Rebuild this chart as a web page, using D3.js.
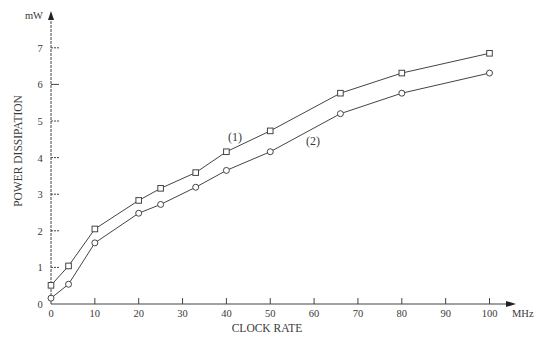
<!DOCTYPE html>
<html>
<head>
<meta charset="utf-8">
<script src="https://cdn.jsdelivr.net/npm/d3@7"></script>
<style>
  body { margin: 0; background: #fff; }
  svg text { font-family: "Liberation Serif", "DejaVu Serif", serif; fill: #3a3a3a; }
</style>
</head>
<body>
<div id="chart"></div>
<script>
// clock rate (MHz) for each measured point
const clockRate = [0, 4, 10, 20, 25, 33, 40, 50, 66, 80, 100];
// power dissipation (mW), curve (1) squares, curve (2) circles
const power1 = [0.51, 1.04, 2.05, 2.83, 3.16, 3.59, 4.16, 4.73, 5.76, 6.31, 6.85];
const power2 = [0.16, 0.54, 1.67, 2.48, 2.72, 3.19, 3.65, 4.16, 5.2, 5.76, 6.31];
const xTicks = [0, 10, 20, 30, 40, 50, 60, 70, 80, 90, 100];
const yTicks = [0, 1, 2, 3, 4, 5, 6, 7];

const width = 535, height = 337;

const svg = d3.select('#chart')
  .append('svg')
  .attr('width', width)
  .attr('height', height);

const x = d3.scaleLinear().domain([0, 100]).range([51, 489.5]);
const y = d3.scaleLinear().domain([0, 7]).range([304, 47.8]);

const ink = '#444';

// x axis line with arrow
svg.append('line')
  .attr('x1', x(0)).attr('x2', 512)
  .attr('y1', y(0)).attr('y2', y(0))
  .attr('stroke', ink).attr('stroke-width', 1);
svg.append('path')
  .attr('d', `M516,${y(0)} L506,${y(0) - 3} L506,${y(0) + 3} Z`)
  .attr('fill', '#222');

// y axis line (dashed) with arrow
svg.append('line')
  .attr('x1', x(0)).attr('x2', x(0))
  .attr('y1', y(0)).attr('y2', 18)
  .attr('stroke', ink).attr('stroke-width', 1)
  .attr('stroke-dasharray', '3,1');
svg.append('path')
  .attr('d', `M${x(0)},11 L${x(0) - 3},20 L${x(0) + 3},20 Z`)
  .attr('fill', '#222');

// x ticks
const xt = svg.append('g');
xt.selectAll('line')
  .data(xTicks.filter(d => d > 0))
  .join('line')
  .attr('x1', d => x(d)).attr('x2', d => x(d))
  .attr('y1', y(0)).attr('y2', y(0) - 6)
  .attr('stroke', ink).attr('stroke-width', 1);
xt.selectAll('text')
  .data(xTicks)
  .join('text')
  .attr('x', d => x(d))
  .attr('y', y(0) + 13)
  .attr('text-anchor', 'middle')
  .attr('font-size', 10.5)
  .text(d => d);

// y ticks
const yt = svg.append('g');
yt.selectAll('line')
  .data(yTicks.filter(d => d > 0))
  .join('line')
  .attr('x1', x(0)).attr('x2', x(0) + 8)
  .attr('y1', d => y(d)).attr('y2', d => y(d))
  .attr('stroke', ink).attr('stroke-width', 1)
  .attr('stroke-dasharray', d => d === 6 ? null : '2,1');
yt.selectAll('text')
  .data(yTicks)
  .join('text')
  .attr('x', 40)
  .attr('y', d => y(d) + 4)
  .attr('text-anchor', 'middle')
  .attr('font-size', 10.5)
  .text(d => d);

// axis labels and units
svg.append('text')
  .attr('x', 512).attr('y', 317)
  .attr('font-size', 10.5)
  .text('MHz');
svg.append('text')
  .attr('x', 43).attr('y', 19)
  .attr('text-anchor', 'end')
  .attr('font-size', 10.5)
  .text('mW');
svg.append('text')
  .attr('x', 267).attr('y', 332)
  .attr('text-anchor', 'middle')
  .attr('font-size', 11.5)
  .text('CLOCK RATE');
svg.append('text')
  .attr('transform', 'translate(22,151) rotate(-90)')
  .attr('text-anchor', 'middle')
  .attr('font-size', 11.5)
  .text('POWER DISSIPATION');

// curves
const line = d3.line()
  .x(d => x(d[0]))
  .y(d => y(d[1]));

const pts1 = clockRate.map((c, i) => [c, power1[i]]);
const pts2 = clockRate.map((c, i) => [c, power2[i]]);

svg.append('path')
  .datum(pts1)
  .attr('d', line)
  .attr('fill', 'none')
  .attr('stroke', ink).attr('stroke-width', 1);
svg.append('path')
  .datum(pts2)
  .attr('d', line)
  .attr('fill', 'none')
  .attr('stroke', ink).attr('stroke-width', 1);

svg.append('g').selectAll('rect')
  .data(pts1)
  .join('rect')
  .attr('x', d => x(d[0]) - 2.8)
  .attr('y', d => y(d[1]) - 2.8)
  .attr('width', 5.6).attr('height', 5.6)
  .attr('fill', '#fff')
  .attr('stroke', ink).attr('stroke-width', 1);

svg.append('g').selectAll('circle')
  .data(pts2)
  .join('circle')
  .attr('cx', d => x(d[0]))
  .attr('cy', d => y(d[1]))
  .attr('r', 3)
  .attr('fill', '#fff')
  .attr('stroke', ink).attr('stroke-width', 1);

// curve labels
svg.append('text')
  .attr('x', 235).attr('y', 141)
  .attr('text-anchor', 'middle')
  .attr('font-size', 12)
  .text('(1)');
svg.append('text')
  .attr('x', 313).attr('y', 145)
  .attr('text-anchor', 'middle')
  .attr('font-size', 12)
  .text('(2)');
</script>
</body>
</html>
